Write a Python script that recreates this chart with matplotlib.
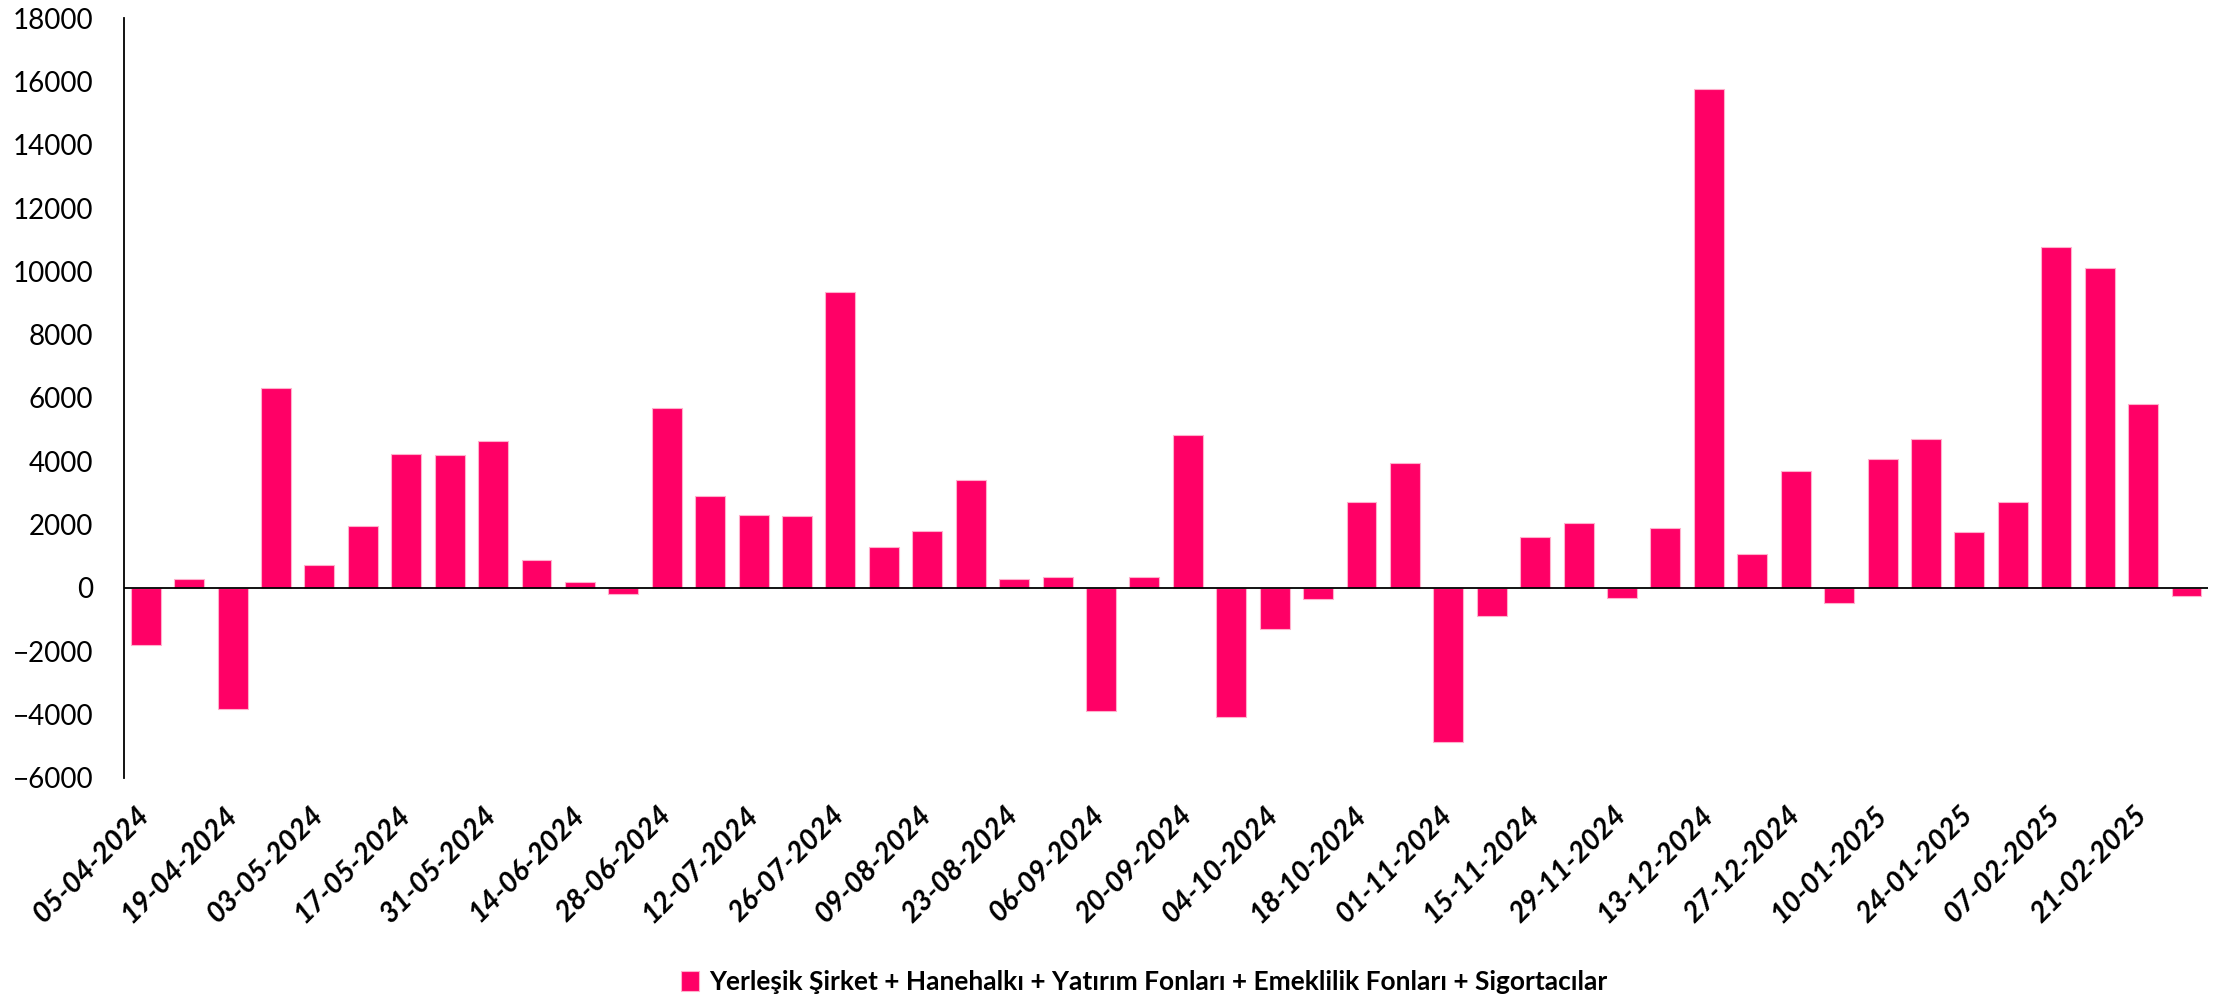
import numpy as np
import matplotlib
matplotlib.use("Agg")
import matplotlib.pyplot as plt
from matplotlib.ticker import MultipleLocator

plt.rcParams['font.family'] = ['Lato', 'DejaVu Sans']

# weekly values, 05-04-2024 .. 28-02-2025
dates = ["05-04-2024", "12-04-2024", "19-04-2024", "26-04-2024", "03-05-2024", "10-05-2024",
         "17-05-2024", "24-05-2024", "31-05-2024", "07-06-2024", "14-06-2024", "21-06-2024",
         "28-06-2024", "05-07-2024", "12-07-2024", "19-07-2024", "26-07-2024", "02-08-2024",
         "09-08-2024", "16-08-2024", "23-08-2024", "30-08-2024", "06-09-2024", "13-09-2024",
         "20-09-2024", "27-09-2024", "04-10-2024", "11-10-2024", "18-10-2024", "25-10-2024",
         "01-11-2024", "08-11-2024", "15-11-2024", "22-11-2024", "29-11-2024", "06-12-2024",
         "13-12-2024", "20-12-2024", "27-12-2024", "03-01-2025", "10-01-2025", "17-01-2025",
         "24-01-2025", "31-01-2025", "07-02-2025", "14-02-2025", "21-02-2025", "28-02-2025"]

values = [-1810, 270, -3810, 6320, 730, 1970, 4230, 4200, 4650, 880, 200, -200,
          5680, 2910, 2310, 2280, 9350, 1300, 1810, 3410, 270, 350, -3890, 350,
          4830, -4070, -1300, -360, 2720, 3940, -4860, -880, 1620, 2050, -320, 1890,
          15750, 1070, 3710, -480, 4070, 4700, 1780, 2720, 10770, 10110, 5810, -250]

series_name = "Yerleşik Şirket + Hanehalkı + Yatırım Fonları + Emeklilik Fonları + Sigortacılar"

fig = plt.figure(figsize=(22.26, 10.02), dpi=100)
ax = fig.add_axes([0.0557, 0.2236, 0.9363, 0.7584])

x = np.arange(len(values))
ax.bar(x, values, width=0.69, color='#FF0066', edgecolor='#FFB0CC', linewidth=0.8,
       label=series_name, zorder=2)
ax.axhline(0, color='black', linewidth=1.3, zorder=3)

ax.set_xlim(-0.5, len(values) - 0.5)
ax.set_ylim(-6000, 18000)
ax.yaxis.set_major_locator(MultipleLocator(2000))

for s in ['top', 'right', 'bottom']:
    ax.spines[s].set_visible(False)
ax.spines['left'].set_linewidth(1.3)

ax.tick_params(axis='y', length=0, pad=22, labelsize=20)
ax.set_xticks(x[::2])
ax.set_xticklabels(dates[::2], rotation=45, ha='right', va='center',
                   rotation_mode='anchor', fontsize=20.5, fontweight='bold', fontstyle='italic')
ax.tick_params(axis='x', length=0, pad=24)

leg = fig.legend(loc='lower center', bbox_to_anchor=(0.514, -0.014), frameon=False,
                 prop={'weight': 'bold', 'size': 18}, handlelength=0.75, handleheight=0.85,
                 handletextpad=0.4)

# fit legend text width to the reference (about 898 px)
fig.canvas.draw()
r = fig.canvas.get_renderer()
txt = leg.get_texts()[0]
w = txt.get_window_extent(r).width
txt.set_fontsize(18 * 898 / w)

fig.savefig("out.png", dpi=100)
